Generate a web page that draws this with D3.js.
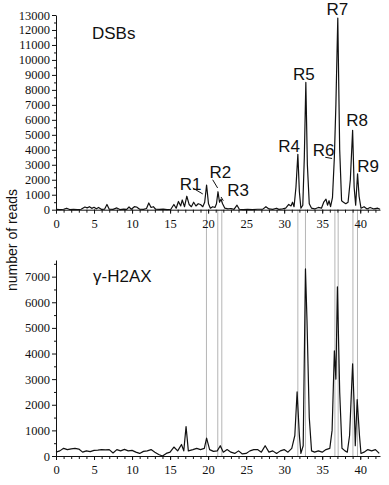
<!DOCTYPE html>
<html>
<head>
<meta charset="utf-8">
<script src="https://cdn.jsdelivr.net/npm/d3@7"></script>
<style>
  body { margin: 0; background: #fff; }
</style>
</head>
<body>
<div class="draw"></div>
<script>
// positions along the x axis (shared by both traces)
const dsbX = [0,0.5,1,1.4,1.8,2.3,2.8,3.3,3.8,4.1,4.4,4.7,5.0,5.3,5.6,6.0,6.4,6.7,7.0,7.5,8.0,8.4,8.9,9.3,9.6,9.9,10.3,10.6,11.0,11.5,11.9,12.2,12.5,12.8,13.1,13.6,14.1,14.6,15.1,15.5,15.8,16.1,16.4,16.6,16.9,17.2,17.5,17.8,18.1,18.4,18.7,19.0,19.3,19.55,19.8,20.05,20.3,20.6,20.9,21.1,21.3,21.5,21.7,21.9,22.2,22.6,23.0,23.4,23.8,24.1,24.6,25.2,25.8,26.5,27.2,27.6,28.0,28.5,29.0,29.3,29.8,30.2,30.6,30.9,31.1,31.3,31.55,31.8,32.0,32.2,32.45,32.65,32.85,33.05,33.3,33.6,34.0,34.5,34.9,35.2,35.5,35.7,35.9,36.1,36.35,36.6,36.8,37.05,37.3,37.55,37.8,38.1,38.4,38.7,39.0,39.2,39.4,39.65,39.85,40.1,40.5,40.9,41.3,41.8,42.3,42.6];
const dsbY = [20,10,30,100,10,20,0,30,180,120,200,90,160,60,150,20,40,350,30,20,120,10,40,20,180,30,200,180,30,20,80,450,150,200,30,20,40,10,30,350,100,550,250,650,200,900,350,200,500,250,400,350,200,500,1650,400,100,200,150,400,1200,500,700,400,100,50,80,20,300,30,10,20,10,30,40,200,50,20,100,20,50,100,350,250,500,200,1500,3700,1200,100,300,3500,8500,3000,400,100,50,150,100,500,700,300,600,200,800,3500,7000,12800,4000,600,500,400,500,2000,5300,1500,300,2400,900,100,200,50,150,50,100,30];

const h2axX = [0,0.5,1,1.5,2,2.5,3,3.5,4,4.5,5,5.5,6,6.5,7,7.5,8,8.5,9,9.5,10,10.5,11,11.5,12,12.5,13,13.5,14,14.5,15,15.5,16,16.5,16.8,17.1,17.4,18,18.5,19,19.5,19.8,20.2,20.7,21.2,21.6,22,22.5,23,23.5,24,24.5,25,25.5,26,26.5,27,27.5,28,28.5,29,29.5,30,30.5,31,31.4,31.7,32,32.2,32.5,32.8,33.0,33.3,33.6,34,34.5,35,35.5,36,36.3,36.6,36.8,37.0,37.3,37.6,38,38.3,38.6,39.0,39.2,39.35,39.6,39.9,40.1,40.5,41,41.5,42,42.5];
const h2axY = [150,200,300,250,280,300,270,150,200,170,220,230,250,240,250,120,250,200,260,200,220,150,100,180,200,250,150,60,0,100,150,350,200,450,200,1150,200,250,300,250,300,700,250,180,200,400,150,250,150,100,200,80,100,200,250,250,150,400,150,200,100,200,250,150,300,800,2500,800,100,400,7300,5300,1500,200,150,200,150,250,300,1000,4100,3000,6600,2500,300,200,150,800,3600,2000,400,2200,800,100,150,250,200,250,100];

// positions of the marked regions (grey guide lines)
const regionX = [19.78,21.27,21.8,31.8,32.8,36.67,37.1,39.04,39.64];

const labelNames = ["R1","R2","R3","R4","R5","R6","R7","R8","R9"];
const labelX = [17.7,21.6,23.95,30.65,32.6,35.2,37.0,39.6,41.05];
const labelY = [1315,2115,915,3850,8660,3585,13030,5590,2520];

const width = 389, height = 485;
const serif = "'Liberation Serif', 'DejaVu Serif', serif";
const svg = d3.select(".draw").append("svg")
  .attr("width", width)
  .attr("height", height)
  .style("font-family", "'Liberation Sans', Arial, sans-serif");

const x = d3.scaleLinear().domain([0, 42.6]).range([56, 380]);
const yTop = d3.scaleLinear().domain([0, 13000]).range([209.7, 15]);
const yBot = d3.scaleLinear().domain([0, 7650]).range([456, 260]);

// guide lines behind everything
svg.append("g").selectAll("line")
  .data(regionX).join("line")
  .attr("x1", d => x(d)).attr("x2", d => x(d))
  .attr("y1", yTop(0)).attr("y2", yBot(0))
  .attr("stroke", "#b5b5b5").attr("stroke-width", 1);

function styleAxis(g) {
  g.selectAll("text")
    .attr("font-family", serif)
    .attr("font-size", 12.5)
    .attr("fill", "#111");
  g.selectAll("line, path").attr("stroke", "#111");
}

function drawAxes(y, topVal, labelMax) {
  // minor y ticks
  svg.append("g")
    .attr("transform", `translate(${x(0)},0)`)
    .call(d3.axisLeft(y).tickValues(d3.range(500, topVal, 1000)).tickSize(2).tickFormat(""))
    .call(g => g.select(".domain").remove())
    .call(styleAxis);
  // major y ticks
  svg.append("g")
    .attr("transform", `translate(${x(0)},0)`)
    .call(d3.axisLeft(y).tickValues(d3.range(0, labelMax + 1, 1000)).tickFormat(d3.format("d"))
      .tickSize(4).tickPadding(2).tickSizeOuter(0))
    .call(styleAxis);
  // minor x ticks
  svg.append("g")
    .attr("transform", `translate(0,${y(0)})`)
    .call(d3.axisBottom(x).tickValues(d3.range(0, 43, 1)).tickSize(3).tickFormat(""))
    .call(g => g.select(".domain").remove())
    .call(styleAxis);
  // major x ticks
  svg.append("g")
    .attr("transform", `translate(0,${y(0)})`)
    .call(d3.axisBottom(x).tickValues([0,5,10,15,20,25,30,35,40]).tickSize(4).tickPadding(5).tickSizeOuter(0))
    .call(styleAxis);
}

drawAxes(yTop, 13000, 13000);
drawAxes(yBot, 7650, 7000);

// traces
const lineTop = d3.line().x((d, i) => x(dsbX[i])).y(d => yTop(d));
svg.append("path").datum(dsbY)
  .attr("fill", "none").attr("stroke", "#111").attr("stroke-width", 1.2)
  .attr("stroke-linejoin", "round").attr("d", lineTop);

const lineBot = d3.line().x((d, i) => x(h2axX[i])).y(d => yBot(d));
svg.append("path").datum(h2axY)
  .attr("fill", "none").attr("stroke", "#111").attr("stroke-width", 1.2)
  .attr("stroke-linejoin", "round").attr("d", lineBot);

// titles
svg.append("text").attr("x", 92).attr("y", 38.5)
  .attr("font-size", 17).attr("fill", "#111").text("DSBs");
svg.append("text").attr("x", 93).attr("y", 282)
  .attr("font-size", 17).attr("fill", "#111").text("γ-H2AX");

// y axis title
svg.append("text")
  .attr("transform", "translate(17,240) rotate(-90)")
  .attr("text-anchor", "middle").attr("font-size", 14).attr("fill", "#111")
  .text("number of reads");

// region labels
svg.append("g").selectAll("text")
  .data(labelNames).join("text")
  .attr("x", (d, i) => x(labelX[i]))
  .attr("y", (d, i) => yTop(labelY[i]))
  .attr("text-anchor", "middle")
  .attr("font-size", 17).attr("fill", "#111")
  .text(d => d);

// leader lines for R1, R2, R3, R6
const leaders = [[17.98,1450,19.3,1050],[20.6,2000,21.25,1450],[21.7,850,22.0,600],[35.4,3500,36.3,3420]];
svg.append("g").selectAll("line")
  .data(leaders).join("line")
  .attr("x1", d => x(d[0])).attr("y1", d => yTop(d[1]))
  .attr("x2", d => x(d[2])).attr("y2", d => yTop(d[3]))
  .attr("stroke", "#111").attr("stroke-width", 1);
</script>
</body>
</html>
